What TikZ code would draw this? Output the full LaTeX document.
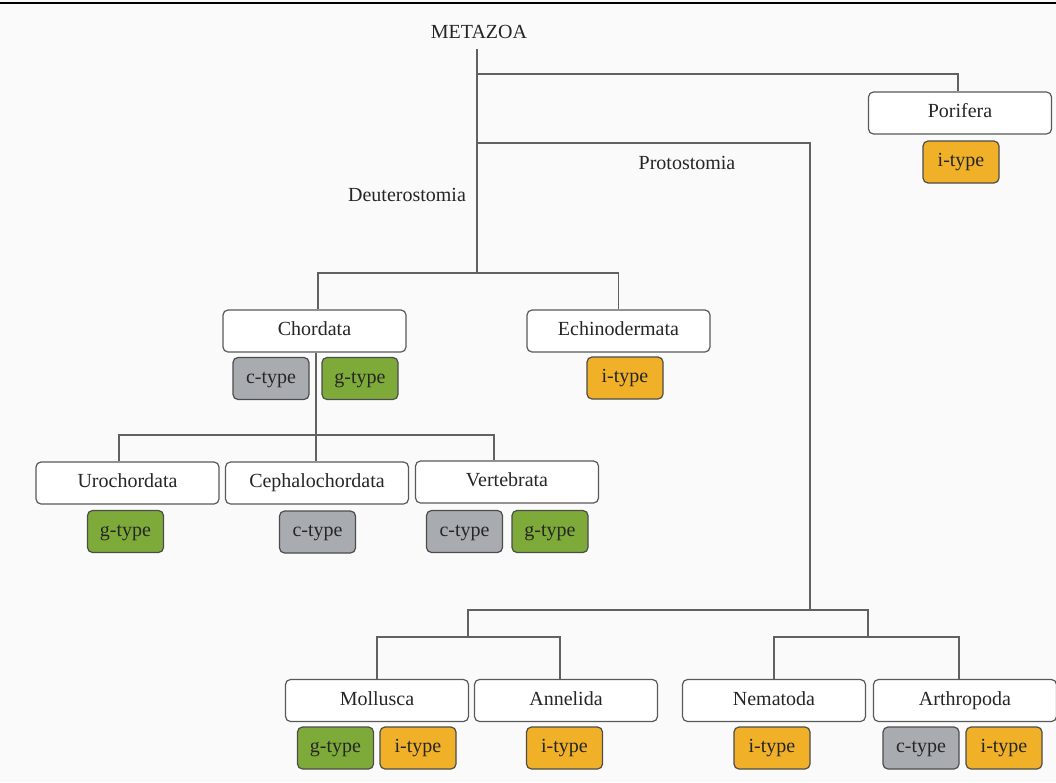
\documentclass[tikz,border=0pt]{standalone}
\usepackage{fontspec}
\setmainfont{Liberation Serif}
\usetikzlibrary{positioning}
\definecolor{ctype}{HTML}{A8ABAF}
\definecolor{gtype}{HTML}{7DAA38}
\definecolor{itype}{HTML}{F0B128}

\begin{document}
\begin{tikzpicture}[x=1pt, y=-1pt,
	every node/.style={font=\fontsize{20}{24}\selectfont, text=black!85},
	taxon/.style={draw=black!65, line width=1.2pt, rounded corners=5pt, fill=white,
		minimum width=183pt, minimum height=42pt, inner sep=0pt, text height=13pt, text depth=4pt},
	chip/.style={draw=black!70, line width=1.2pt, rounded corners=5pt,
		minimum width=76pt, minimum height=42pt, inner sep=0pt, text height=13pt, text depth=4pt},
	branch/.style={draw=black!62, line width=1.5pt}]
	\useasboundingbox (0,0) rectangle (1056,782);
	\fill[black!2] (0,0) rectangle (1056,782);
	\draw[line width=2pt] (0,2.5) -- (1056,2.5);

	% taxa
	\node (metazoa) at (479,32) {METAZOA};
	\node (deutlbl) at (407,195) {Deuterostomia};
	\node (protlbl) at (687,163) {Protostomia};
	\node[taxon] (porifera) at (960,113) {Porifera};
	\node[taxon] (chordata) at (314.5,331) {Chordata};
	\node[taxon] (echino) at (618.5,331) {Echinodermata};
	\node[taxon] (uro) at (127.5,483) {Urochordata};
	\node[taxon] (cephalo) at (317,483) {Cephalochordata};
	\node[taxon] (verte) at (507,482) {Vertebrata};
	\node[taxon] (mollusca) at (377,700.5) {Mollusca};
	\node[taxon] (annelida) at (566,700.5) {Annelida};
	\node[taxon] (nematoda) at (774,700.5) {Nematoda};
	\node[taxon] (arthro) at (965,700.5) {Arthropoda};

	% types
	\node[chip, fill=itype] (porI) at (961,162) {i-type};
	\node[chip, fill=ctype] (chorC) at (271,378.5) {c-type};
	\node[chip, fill=gtype] (chorG) at (360,378.5) {g-type};
	\node[chip, fill=itype] (echI) at (625,378) {i-type};
	\node[chip, fill=gtype] (uroG) at (125.5,531.5) {g-type};
	\node[chip, fill=ctype] (cephC) at (317.5,532) {c-type};
	\node[chip, fill=ctype] (vertC) at (464.5,531.5) {c-type};
	\node[chip, fill=gtype] (vertG) at (550,531.5) {g-type};
	\node[chip, fill=gtype] (molG) at (335.5,748) {g-type};
	\node[chip, fill=itype] (molI) at (418,748) {i-type};
	\node[chip, fill=itype] (annI) at (564.5,748) {i-type};
	\node[chip, fill=itype] (nemI) at (772,748) {i-type};
	\node[chip, fill=ctype] (artC) at (921,748) {c-type};
	\node[chip, fill=itype] (artI) at (1004,748) {i-type};

	% branches
	\coordinate (root) at (477,49);
	\coordinate (jpor) at (477,74);
	\coordinate (jprot) at (477,143);
	\coordinate (jdeut) at (477,273);
	\coordinate (jchor) at (316,435);
	\coordinate (jprot2) at (810,610);
	\coordinate (jmol) at (468,637);
	\coordinate (jnem) at (868,637);

	\draw[branch] (root) -- (jdeut);
	\draw[branch] (jpor) -| ([xshift=-2pt]porifera.north);
	\draw[branch] (jprot) -| (jprot2);
	\draw[branch] ([xshift=3.5pt]chordata.north) |- (jdeut) -| (echino.north);
	\draw[branch] ([xshift=1.5pt]chordata.south) -- (jchor);
	\draw[branch] ([xshift=-8.5pt]uro.north) |- (jchor) -| ([xshift=-13pt]verte.north);
	\draw[branch] (jchor) -- ([xshift=-1pt]cephalo.north);
	\draw[branch] (jmol) |- (jprot2) -| (jnem);
	\draw[branch] (mollusca.north) |- (jmol) -| ([xshift=-6pt]annelida.north);
	\draw[branch] (nematoda.north) |- (jnem) -| ([xshift=-6pt]arthro.north);
\end{tikzpicture}
\end{document}
